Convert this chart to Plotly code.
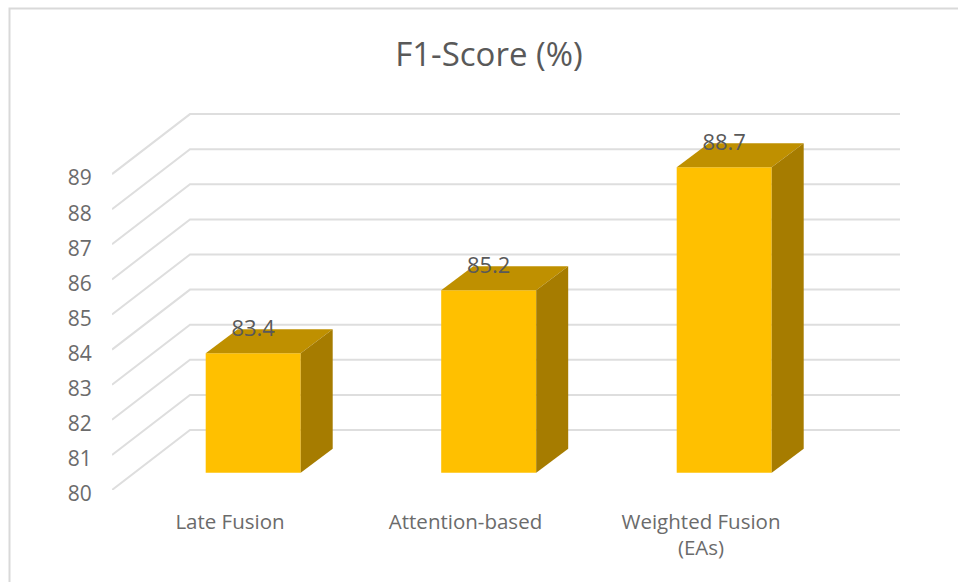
import plotly.graph_objects as go

categories = ["Late Fusion", "Attention-based", "Weighted Fusion<br>(EAs)"]
f1_scores = [83.4, 85.2, 88.7]
y_ticks = [80, 81, 82, 83, 84, 85, 86, 87, 88, 89]

FONT = "Open Sans"
GREY = "#6b6b6b"

# pixels per unit
PX_CAT = 235.5
PX_VAL = 35.1
LEFT, RIGHT, BOTTOM, TOP = 112, 900, 490, 100

# fake 3d: floor depth, bar depth and where the bars stand on the floor
wall_dx, wall_dy = 78 / PX_CAT, 60 / PX_VAL
bar_dx, bar_dy = 32 / PX_CAT, 24 / PX_VAL
lift = 17.3 / PX_VAL
shift = 23.2 / PX_CAT
bar_w = 95 / PX_CAT
label_up = 23 / PX_VAL

x_min = (LEFT - 230) / PX_CAT
x_max = x_min + (RIGHT - LEFT) / PX_CAT
y_min = y_ticks[0]
y_max = y_min + (BOTTOM - TOP) / PX_VAL

fig = go.Figure()

# front faces
xs = list(range(len(categories)))
fig.add_trace(go.Bar(
    x=[i + shift for i in xs],
    y=[v - y_min for v in f1_scores],
    base=y_min + lift,
    width=bar_w,
    marker=dict(color="#FFC000", line=dict(width=0)),
    hoverinfo="skip",
    showlegend=False,
))

# top and side faces
for i, v in zip(xs, f1_scores):
    l = i + shift - bar_w / 2
    r = i + shift + bar_w / 2
    top = v + lift
    base = y_min + lift
    fig.add_trace(go.Scatter(
        x=[l, r, r + bar_dx, l + bar_dx, l],
        y=[top, top, top + bar_dy, top + bar_dy, top],
        mode="lines", fill="toself", fillcolor="#BF9000",
        line=dict(width=0), hoverinfo="skip", showlegend=False,
    ))
    fig.add_trace(go.Scatter(
        x=[r, r + bar_dx, r + bar_dx, r, r],
        y=[base, base + bar_dy, top + bar_dy, top, base],
        mode="lines", fill="toself", fillcolor="#A67C00",
        line=dict(width=0), hoverinfo="skip", showlegend=False,
    ))

# value labels
fig.add_trace(go.Scatter(
    x=[i + shift for i in xs],
    y=[v + lift + label_up for v in f1_scores],
    mode="text",
    text=[str(v) for v in f1_scores],
    textposition="middle center",
    textfont=dict(family=FONT, size=22, color="#595959"),
    hoverinfo="skip", showlegend=False,
))

# side wall + back wall gridlines, under the bars
shapes = []
for t in y_ticks:
    shapes.append(dict(
        type="path", xref="x", yref="y", layer="below",
        path=f"M {x_min} {t} L {x_min + wall_dx} {t + wall_dy} L {x_max} {t + wall_dy}",
        line=dict(color="#dedede", width=2),
    ))

# chart frame, only left and top fall inside the window
shapes.append(dict(
    type="rect", xref="paper", yref="paper", layer="below",
    x0=(9.5 - LEFT) / (RIGHT - LEFT), x1=(990 - LEFT) / (RIGHT - LEFT),
    y0=(BOTTOM - 610) / (BOTTOM - TOP), y1=(BOTTOM - 8.5) / (BOTTOM - TOP),
    line=dict(color="#d9d9d9", width=2),
))

fig.update_layout(
    width=958, height=582,
    margin=dict(l=LEFT, r=958 - RIGHT, t=TOP, b=582 - BOTTOM),
    paper_bgcolor="white", plot_bgcolor="white",
    shapes=shapes,
    title=dict(
        text="F1-Score (%)", x=489 / 958, xanchor="center",
        y=1 - 54 / 582, yanchor="middle",
        font=dict(family=FONT, size=33, color="#595959"),
    ),
    xaxis=dict(
        range=[x_min, x_max], tickvals=xs, ticktext=categories,
        showgrid=False, zeroline=False, showline=False,
        ticks="outside", ticklen=13, tickcolor="rgba(0,0,0,0)",
        tickfont=dict(family=FONT, size=20.5, color=GREY),
    ),
    yaxis=dict(
        range=[y_min, y_max], tickvals=y_ticks,
        showgrid=False, zeroline=False, showline=False,
        ticks="outside", ticklen=15, tickcolor="rgba(0,0,0,0)", ticklabelshift=4,
        tickfont=dict(family=FONT, size=21, color=GREY),
    ),
)

fig.write_html("out.html", config={"displayModeBar": False},
               post_script="document.body.style.margin='0';")
